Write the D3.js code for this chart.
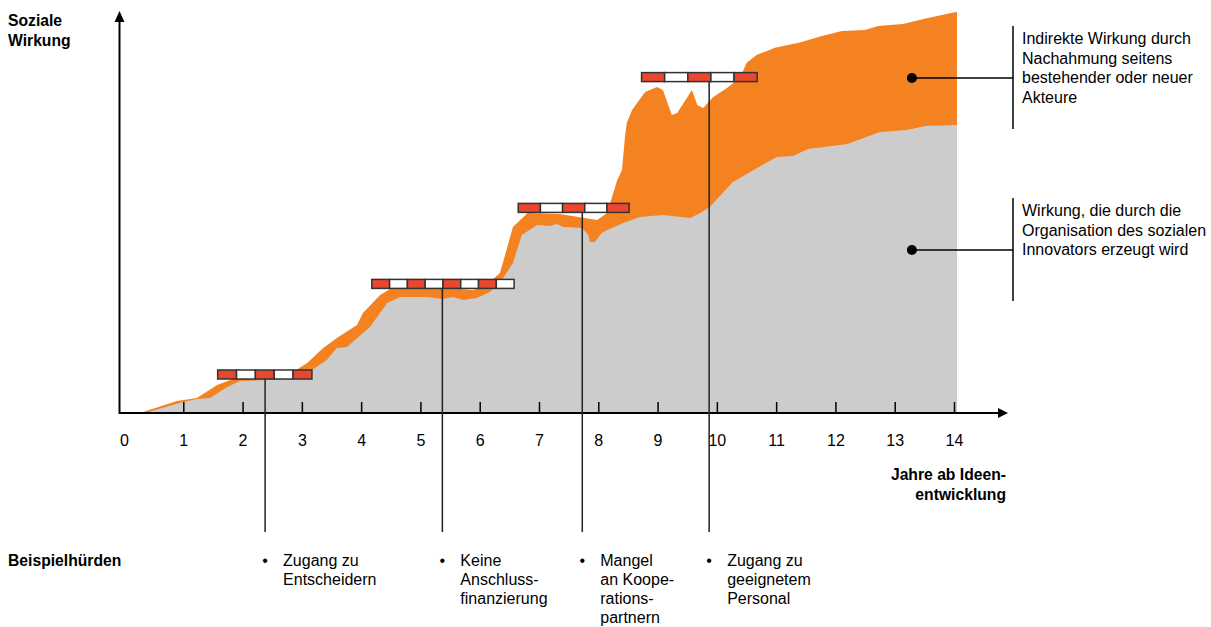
<!DOCTYPE html>
<html>
<head>
<meta charset="utf-8">
<script src="https://cdn.jsdelivr.net/npm/d3@7"></script>
<style>
  body { margin: 0; background: #fff; }
  svg text { font-family: "Liberation Sans", Arial, sans-serif; fill: #000; }
</style>
</head>
<body>
<div id="frame"></div>
<script>
'use strict'

// years on the x axis
var yearTicks = d3.range(0, 15)

// upper edge of the total impact (orange)
var totalYears = [0.27, 0.89, 1.23, 1.57, 1.84, 2.01, 2.41, 2.85, 3.09, 3.36, 3.59, 3.93, 4.03, 4.32, 4.49, 4.82,
  5.16, 5.41, 5.67, 5.89, 6.12, 6.34, 6.39, 6.56, 6.63, 6.81, 7.35, 7.98, 8.15, 8.32, 8.40, 8.45, 8.48, 8.57,
  8.79, 8.99, 9.09, 9.24, 9.33, 9.58, 9.67, 9.77, 9.94, 10.17, 10.39, 10.50, 10.67, 10.98, 11.40, 11.74,
  12.11, 12.50, 12.72, 13.14, 13.54, 14.05]
var totalValues = [0, 3, 3.75, 7, 8.5, 8.75, 9, 10.25, 12.5, 16.25, 18.75, 22, 25, 29.5, 31, 31.25,
  31, 31.5, 31, 30.75, 32, 35, 37.5, 46.5, 47.5, 50, 49.75, 48.25, 50, 58.25, 60.75, 69, 72.5, 75.75,
  80.25, 81.5, 80.75, 74.5, 75, 80.75, 77, 76.25, 79, 81.25, 83.75, 87.5, 89.5, 91.3, 92.6, 94.1,
  95.5, 95.75, 96.75, 97.25, 98.7, 100.3]

// upper edge of the impact of the organisation itself (grey)
var orgYears = [0.35, 1.00, 1.23, 1.45, 1.74, 1.96, 2.41, 2.83, 2.97, 3.42, 3.59, 3.76, 4.15, 4.44, 4.66,
  5.11, 5.38, 5.55, 5.72, 5.95, 6.17, 6.34, 6.56, 6.71, 6.97, 7.19, 7.30, 7.41, 7.73, 7.83, 7.86, 7.94,
  8.06, 8.15, 8.42, 8.70, 9.09, 9.55, 9.72, 9.88, 10.27, 10.68, 11.01, 11.28, 11.54, 12.20, 12.75,
  13.21, 13.51, 14.05]
var orgValues = [0, 2.75, 3.5, 3.75, 6.5, 8, 8.25, 8.5, 8.75, 13.25, 16.25, 16.5, 21.5, 27.5, 29,
  29, 28.5, 29, 28.25, 28.75, 30.25, 32.5, 37.5, 44.5, 47, 46.75, 47.25, 46.5, 46.25, 44.5, 42.75, 42.75,
  45, 45.75, 47.5, 49, 49.5, 48.75, 50, 51.5, 57.75, 61.25, 64, 64.25, 66, 67.25, 70.25,
  70.75, 71.75, 72]

// hurdles: where the line drops, barrier span, barrier level, number of stripes
var hurdleYears = [2.38, 5.37, 7.73, 9.87]
var barrierFrom = [1.58, 4.18, 6.65, 8.73]
var barrierTo = [3.17, 6.58, 8.52, 10.68]
var barrierLevel = [10.75, 33.4, 52.4, 85.1]
var barrierStripes = [5, 8, 5, 5]
var hurdleTexts = [
  ["Zugang zu", "Entscheidern"],
  ["Keine", "Anschluss-", "finanzierung"],
  ["Mangel", "an Koope-", "rations-", "partnern"],
  ["Zugang zu", "geeignetem", "Personal"]
]

var legendYear = 13.29
var legendValues = [83.75, 40.75]
var legendTexts = [
  ["Indirekte Wirkung durch", "Nachahmung seitens", "bestehender oder neuer", "Akteure"],
  ["Wirkung, die durch die", "Organisation des sozialen", "Innovators erzeugt wird"]
]

var app = {}
app.width = 1211
app.height = 627
app.orange = "#f58220"
app.grey = "#cccccc"
app.red = "#e9472f"

app.svg = d3.select("#frame")
  .append("svg")
  .attr("width", app.width)
  .attr("height", app.height)

var x = d3.scaleLinear().domain([0, 14]).range([124, 954])
var y = d3.scaleLinear().domain([0, 100]).range([413, 13])

var area = d3.area()
  .x(d => x(d[0]))
  .y0(y(0))
  .y1(d => y(d[1]))

var totalData = totalYears.map((t, i) => [t, totalValues[i]])
var orgData = orgYears.map((t, i) => [t, orgValues[i]])

app.svg.append("path")
  .datum(totalData)
  .attr("d", area)
  .style("fill", app.orange)

app.svg.append("path")
  .datum(orgData)
  .attr("d", area)
  .style("fill", app.grey)

// axes
var axisG = app.svg.append("g")
  .attr("transform", "translate(0," + y(0) + ")")
  .call(d3.axisBottom(x).tickValues(yearTicks).tickSizeInner(-11).tickSizeOuter(0).tickPadding(22))

axisG.select(".domain").remove()
axisG.selectAll(".tick line")
  .attr("stroke", "#000")
  .attr("stroke-width", 1.5)
  .filter(d => d === 0).remove()
axisG.selectAll(".tick text")
  .style("font-size", "16px")

var x0 = 119.5
app.svg.append("line")
  .attr("x1", x0).attr("y1", y(0))
  .attr("x2", 1000).attr("y2", y(0))
  .attr("stroke", "#000").attr("stroke-width", 2)
app.svg.append("path")
  .attr("d", "M1008," + y(0) + " L998," + (y(0) - 5) + " L998," + (y(0) + 5) + " Z")
  .style("fill", "#000")

app.svg.append("line")
  .attr("x1", x0).attr("y1", y(0) + 1)
  .attr("x2", x0).attr("y2", 20)
  .attr("stroke", "#000").attr("stroke-width", 2)
app.svg.append("path")
  .attr("d", "M" + x0 + ",11 L" + (x0 - 5) + ",22 L" + (x0 + 5) + ",22 Z")
  .style("fill", "#000")

// axis labels
var bold = app.svg.append("g")
  .style("font-weight", "bold")
  .style("font-size", "15.7px")
bold.append("text").attr("x", 8).attr("y", 26).text("Soziale")
bold.append("text").attr("x", 8).attr("y", 46).text("Wirkung")
bold.append("text").attr("x", 1006).attr("y", 480).attr("text-anchor", "end").text("Jahre ab Ideen-")
bold.append("text").attr("x", 1006).attr("y", 500).attr("text-anchor", "end").text("entwicklung")
bold.append("text").attr("x", 8).attr("y", 566).text("Beispielhürden")

// hurdles
var barH = 9
var hurdles = app.svg.selectAll("g.hurdle")
  .data(hurdleYears.map((t, i) => ({
    year: t, from: barrierFrom[i], to: barrierTo[i], level: barrierLevel[i],
    stripes: barrierStripes[i], text: hurdleTexts[i]
  })))
  .enter().append("g")
  .attr("class", "hurdle")

hurdles.append("line")
  .attr("x1", d => x(d.year)).attr("x2", d => x(d.year))
  .attr("y1", d => y(d.level) + barH)
  .attr("y2", 532)
  .attr("stroke", "#222").attr("stroke-width", 1.5)

hurdles.each(function(d) {
  var g = d3.select(this)
  var w = (x(d.to) - x(d.from)) / d.stripes
  g.selectAll("rect")
    .data(d3.range(d.stripes))
    .enter().append("rect")
    .attr("x", i => x(d.from) + i * w)
    .attr("y", y(d.level))
    .attr("width", w)
    .attr("height", barH)
    .style("fill", i => i % 2 === 0 ? app.red : "#fff")
    .style("stroke", "#333")
    .style("stroke-width", 1.5)

  g.append("text")
    .attr("x", x(d.year))
    .attr("y", 566)
    .attr("text-anchor", "middle")
    .style("font-size", "16px")
    .text("•")

  g.selectAll("text.line")
    .data(d.text)
    .enter().append("text")
    .attr("class", "line")
    .attr("x", x(d.year) + 18)
    .attr("y", (s, i) => 566 + i * 19)
    .style("font-size", "16px")
    .text(s => s)
})

// legend brackets
var legend = app.svg.selectAll("g.legend")
  .data(legendValues.map((v, i) => ({ value: v, text: legendTexts[i] })))
  .enter().append("g")
  .attr("class", "legend")

var bx = 1013
legend.append("circle")
  .attr("cx", x(legendYear))
  .attr("cy", d => y(d.value))
  .attr("r", 5)
  .style("fill", "#000")
legend.append("line")
  .attr("x1", x(legendYear)).attr("x2", bx)
  .attr("y1", d => y(d.value)).attr("y2", d => y(d.value))
  .attr("stroke", "#000").attr("stroke-width", 1.5)
legend.append("line")
  .attr("x1", bx).attr("x2", bx)
  .attr("y1", d => y(d.value) - 52).attr("y2", d => y(d.value) + 51)
  .attr("stroke", "#000").attr("stroke-width", 1.5)
legend.each(function(d) {
  d3.select(this).selectAll("text")
    .data(d.text)
    .enter().append("text")
    .attr("x", bx + 9)
    .attr("y", (s, i) => y(d.value) - 34 + i * 19.5)
    .style("font-size", "16px")
    .text(s => s)
})
</script>
</body>
</html>
